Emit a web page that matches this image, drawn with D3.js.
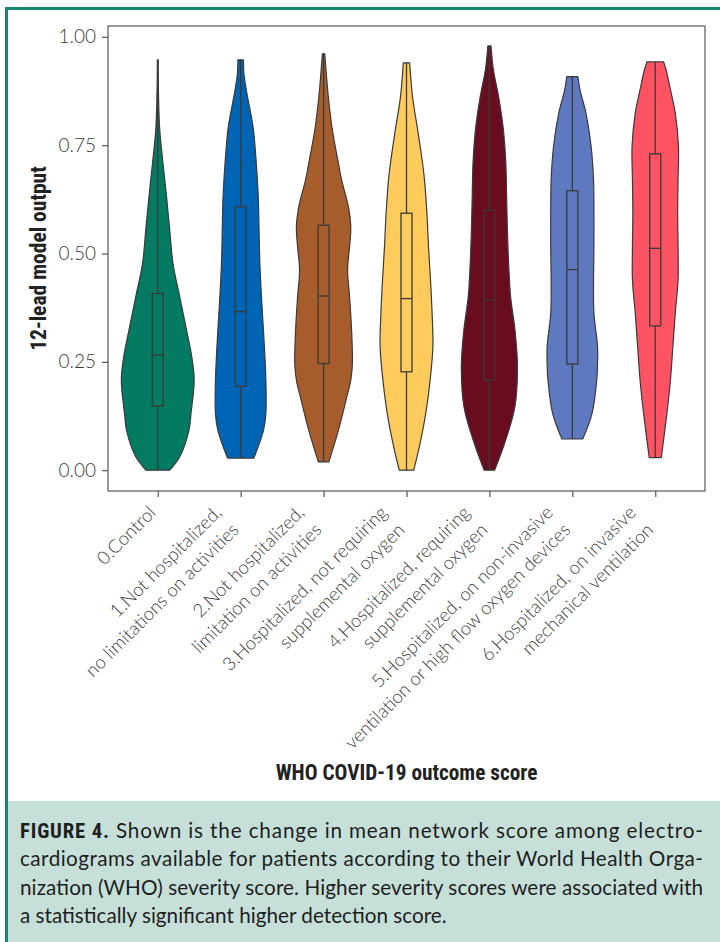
<!DOCTYPE html>
<html>
<head>
<meta charset="utf-8">
<script src="https://cdn.jsdelivr.net/npm/d3@7"></script>
<style>
  body { margin: 0; background: #fff; }
  svg { display: block; }
</style>
</head>
<body>
<svg id="chart" width="720" height="942"></svg>
<script>
// Inputs

const categories = ["0", "1", "2", "3", "4", "5", "6"];

const tickLabels = [
  ["0.Control"],
  ["1.Not hospitalized,", "no limitations on activities"],
  ["2.Not hospitalized,", "limitation on activities"],
  ["3.Hospitalized, not requiring", "supplemental oxygen"],
  ["4.Hospitalized, requiring", "supplemental oxygen"],
  ["5.Hospitalized, on non-invasive", "ventilation or high flow oxygen devices"],
  ["6.Hospitalized, on invasive", "mechanical ventilation"],
];

const violinColors = ["#037a62", "#0064b4", "#a65d2b", "#ffcb5c", "#6a0c1f", "#5f79c0", "#ff5263"];

const yTicks = [0, 0.25, 0.5, 0.75, 1.0];

// box stats per category
const mins = [0.0, 0.028, 0.019, 0.0, 0.0, 0.072, 0.029];
const q1s = [0.148, 0.194, 0.246, 0.227, 0.208, 0.245, 0.333];
const medians = [0.266, 0.366, 0.402, 0.396, 0.393, 0.463, 0.512];
const q3s = [0.408, 0.608, 0.565, 0.593, 0.6, 0.645, 0.73];
const maxs = [0.947, 0.947, 0.961, 0.94, 0.979, 0.908, 0.942];

// density profile (value, relative density) per category
const kdeValues = [
  [0, 0.031, 0.092, 0.13, 0.208, 0.262, 0.323, 0.4, 0.477, 0.554, 0.631, 0.709, 0.785, 0.86, 0.947],
  [0.028, 0.092, 0.13, 0.208, 0.323, 0.4, 0.477, 0.554, 0.631, 0.709, 0.785, 0.824, 0.862, 0.916, 0.947],
  [0.019, 0.092, 0.169, 0.208, 0.246, 0.323, 0.4, 0.462, 0.516, 0.56, 0.608, 0.67, 0.709, 0.785, 0.86, 0.961],
  [0, 0.054, 0.13, 0.208, 0.285, 0.362, 0.439, 0.516, 0.593, 0.67, 0.709, 0.785, 0.862, 0.94],
  [0, 0.054, 0.13, 0.169, 0.246, 0.323, 0.4, 0.477, 0.554, 0.631, 0.709, 0.785, 0.862, 0.924, 0.979],
  [0.072, 0.13, 0.208, 0.246, 0.285, 0.362, 0.439, 0.516, 0.593, 0.67, 0.747, 0.824, 0.878, 0.908],
  [0.029, 0.13, 0.208, 0.285, 0.362, 0.439, 0.516, 0.593, 0.67, 0.747, 0.824, 0.878, 0.924, 0.942],
];
const kdeDensity = [
  [0.3, 0.55, 0.78, 0.83, 0.91, 0.85, 0.72, 0.55, 0.38, 0.3, 0.22, 0.13, 0.05, 0.02, 0.01],
  [0.33, 0.57, 0.63, 0.63, 0.57, 0.52, 0.48, 0.46, 0.44, 0.39, 0.32, 0.25, 0.17, 0.08, 0.07],
  [0.13, 0.37, 0.58, 0.68, 0.72, 0.7, 0.65, 0.6, 0.65, 0.68, 0.62, 0.45, 0.37, 0.22, 0.12, 0.03],
  [0.18, 0.32, 0.48, 0.59, 0.66, 0.64, 0.6, 0.55, 0.51, 0.45, 0.4, 0.28, 0.15, 0.08],
  [0.13, 0.35, 0.6, 0.67, 0.7, 0.64, 0.53, 0.48, 0.45, 0.43, 0.41, 0.35, 0.23, 0.1, 0.04],
  [0.26, 0.49, 0.61, 0.63, 0.63, 0.54, 0.53, 0.54, 0.54, 0.53, 0.47, 0.34, 0.19, 0.14],
  [0.15, 0.29, 0.38, 0.44, 0.5, 0.57, 0.57, 0.56, 0.57, 0.58, 0.5, 0.38, 0.27, 0.21],
];

const yTitle = "12-lead model output";
const xTitle = "WHO COVID-19 outcome score";
const captionLines = [
  ["FIGURE 4.", " Shown is the change in mean network score among electro-"],
  ["", "cardiograms available for patients according to their World Health Orga-"],
  ["", "nization (WHO) severity score. Higher severity scores were associated with"],
  ["", "a statistically significant higher detection score."],
];

// Layout

const W = 720, H = 942;
const plot = { left: 108, right: 705, top: 26, bottom: 491 };
const teal = "#17866f";
const ink = "#3a3a3a";
const lightFont = "Lato, 'Open Sans', sans-serif";
const boldFont = "'Liberation Sans Narrow', 'Roboto Condensed', Roboto, sans-serif";

const svg = d3.select("#chart");

svg.append("rect").attr("width", W).attr("height", H).attr("fill", "#fff");

// Caption panel
svg.append("rect")
  .attr("x", 6).attr("y", 801).attr("width", W - 6).attr("height", H - 801)
  .attr("fill", "#c6dfd9");

// Teal frame
svg.append("line")
  .attr("x1", 5).attr("x2", W).attr("y1", 8.5).attr("y2", 8.5)
  .attr("stroke", teal).attr("stroke-width", 3);
svg.append("line")
  .attr("x1", 6.5).attr("x2", 6.5).attr("y1", 7).attr("y2", H)
  .attr("stroke", teal).attr("stroke-width", 3);

// Scales
const xScale = d3.scalePoint().domain(categories).range([plot.left, plot.right]).padding(0.6);
const yScale = d3.scaleLinear().domain([-0.048, 1.025]).range([plot.bottom, plot.top]);
const wScale = d3.scaleLinear().domain([0, 1]).range([0, 40]);

// Plot frame
svg.append("rect")
  .attr("x", plot.left).attr("y", plot.top)
  .attr("width", plot.right - plot.left).attr("height", plot.bottom - plot.top)
  .attr("fill", "none").attr("stroke", "#555").attr("stroke-width", 1.2);

// Violins
const violinG = svg.append("g");
categories.forEach((c, i) => {
  const cx = xScale(c);
  const pts = kdeValues[i].map((v, j) => [v, kdeDensity[i][j]]);
  const area = d3.area()
    .y((d) => yScale(d[0]))
    .x0((d) => cx - wScale(d[1]))
    .x1((d) => cx + wScale(d[1]))
    .curve(d3.curveCatmullRom);

  violinG.append("path")
    .attr("d", area(pts))
    .attr("fill", violinColors[i])
    .attr("stroke", ink)
    .attr("stroke-width", 1.2)
    .attr("stroke-linejoin", "round");

  // whisker
  violinG.append("line")
    .attr("x1", cx).attr("x2", cx)
    .attr("y1", yScale(mins[i])).attr("y2", yScale(maxs[i]))
    .attr("stroke", ink).attr("stroke-width", 1.3);

  // box
  violinG.append("rect")
    .attr("x", cx - 5.5).attr("width", 11)
    .attr("y", yScale(q3s[i]))
    .attr("height", yScale(q1s[i]) - yScale(q3s[i]))
    .attr("fill", violinColors[i])
    .attr("stroke", ink).attr("stroke-width", 1.3);

  // median
  violinG.append("line")
    .attr("x1", cx - 5.5).attr("x2", cx + 5.5)
    .attr("y1", yScale(medians[i])).attr("y2", yScale(medians[i]))
    .attr("stroke", ink).attr("stroke-width", 1.3);
});

// Y Axis
const yAxisG = svg.append("g")
  .attr("transform", `translate(${plot.left},0)`)
  .call(d3.axisLeft(yScale).tickValues(yTicks).tickFormat(d3.format(".2f")).tickSize(6).tickPadding(6));
yAxisG.select(".domain").remove();
yAxisG.selectAll(".tick line").attr("stroke", "#555").attr("stroke-width", 1.2);
yAxisG.selectAll(".tick text")
  .attr("fill", "#3c3c3c")
  .style("font-family", lightFont)
  .style("font-weight", 300)
  .style("font-size", "19px");

// X Axis
const xAxisG = svg.append("g")
  .attr("transform", `translate(0,${plot.bottom})`)
  .call(d3.axisBottom(xScale).tickSize(6).tickFormat(""));
xAxisG.select(".domain").remove();
xAxisG.selectAll(".tick line").attr("stroke", "#555").attr("stroke-width", 1.2);

// Rotated tick labels, aligned like matplotlib (bbox right = tick, bbox top under tick)
const labelG = svg.append("g");
categories.forEach((c, i) => {
  const g = labelG.append("g");
  const t = g.append("text")
    .attr("transform", "rotate(-45)")
    .attr("text-anchor", "end")
    .attr("fill", "#3c3c3c")
    .style("font-family", lightFont)
    .style("font-weight", 300)
    .style("font-size", "18.5px");
  tickLabels[i].forEach((line, k) => {
    t.append("tspan").attr("x", 0).attr("y", k * 24.5).text(line);
  });
  const bb = g.node().getBBox();
  const tx = xScale(c) + 2 - (bb.x + bb.width);
  const ty = plot.bottom + 10 - bb.y;
  g.attr("transform", `translate(${tx},${ty})`);
});

// Axis titles
svg.append("text")
  .attr("transform", `translate(46,${(plot.top + plot.bottom) / 2}) rotate(-90)`)
  .attr("text-anchor", "middle")
  .attr("fill", "#222")
  .style("font-family", boldFont)
  .style("font-weight", 700)
  .style("font-size", "21.5px")
  .text(yTitle);

svg.append("text")
  .attr("x", (plot.left + plot.right) / 2)
  .attr("y", 780)
  .attr("text-anchor", "middle")
  .attr("fill", "#222")
  .style("font-family", boldFont)
  .style("font-weight", 700)
  .style("font-size", "21.3px")
  .text(xTitle);

// Caption
const capG = svg.append("g");
captionLines.forEach((parts, i) => {
  const t = capG.append("text")
    .attr("x", 20)
    .attr("y", 838 + i * 28.4)
    .attr("fill", "#1e1e1e")
    .style("font-family", lightFont)
    .style("font-size", "20.7px");
  if (parts[0]) {
    t.append("tspan")
      .style("font-family", boldFont)
      .style("font-weight", 700)
      .text(parts[0]);
  }
  t.append("tspan").text(parts[1]);
  if (i < captionLines.length - 1) {
    t.attr("textLength", 683).attr("lengthAdjust", "spacing");
  }
});
</script>
</body>
</html>
